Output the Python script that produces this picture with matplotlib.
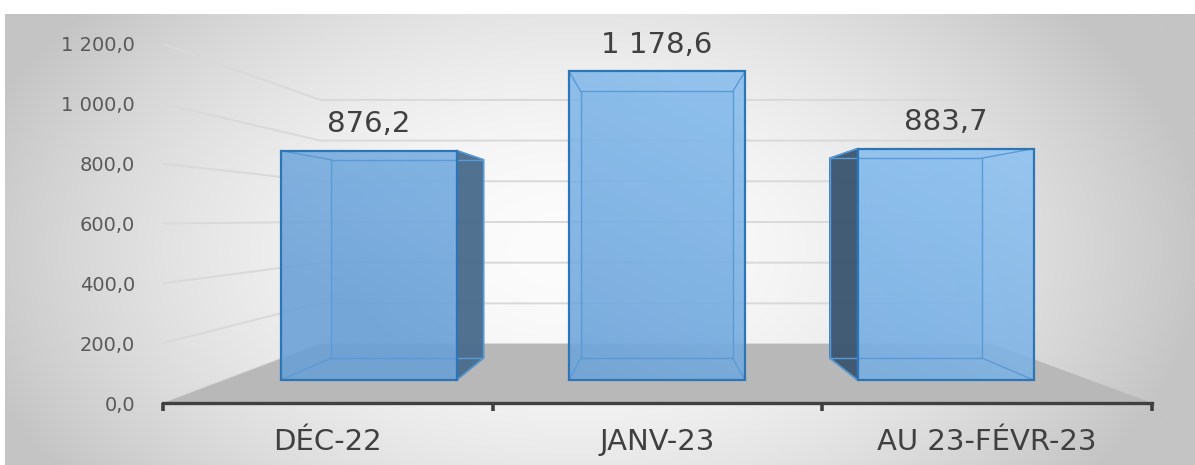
import numpy as np
import matplotlib.pyplot as plt
from matplotlib.patches import Polygon
from matplotlib.colors import LinearSegmentedColormap

plt.rcParams["font.family"] = ["DejaVu Sans"]

# Data
categories = ["DÉC-22", "JANV-23", "AU 23-FÉVR-23"]
values = [876.2, 1178.6, 883.7]
value_labels = ["876,2", "1 178,6", "883,7"]
y_ticks = [0, 200, 400, 600, 800, 1000, 1200]
y_tick_labels = ["0,0", "200,0", "400,0", "600,0", "800,0", "1 000,0", "1 200,0"]

# Perspective setup (data units: x = category slot, y = value)
VX, VY = 1.49, 616.0   # vanishing point
S_WALL = 0.68          # depth scale of the back wall
S_FRONT, S_BACK = 0.875, 0.756  # depth range of the bars
HALF_W = 0.305


def proj(x, v, s):
    return (VX + s * (x - VX), VY + s * (v - VY))


W, H = 1195, 465
fig = plt.figure(figsize=(W / 100, H / 100), dpi=100)
fig.patch.set_facecolor("white")

# Background gradient of the chart area
bg = fig.add_axes([5 / W, 0, (W - 5) / W, (H - 14) / H])
gx = np.linspace(-1, 1, 400)
gy = np.linspace(-1, 1, 200)
GX, GY = np.meshgrid(gx, gy)
r = np.sqrt(((GX + 0.04) / 1.0) ** 2 + ((GY + 0.05) / 1.6) ** 2)
shade = np.clip(252 - 50 * r ** 1.8, 196, 252) / 255
bg.imshow(np.dstack([shade] * 3), extent=(0, 1, 0, 1), aspect="auto", origin="lower")
bg.set_xlim(0, 1)
bg.set_ylim(0, 1)
bg.axis("off")

# Main axes: front plane
ax = fig.add_axes([163 / W, (H - 403) / H, 989 / W, 359 / H])
ax.set_facecolor("none")
ax.set_xlim(0, 3)
ax.set_ylim(0, 1200)

# Back wall gridlines
for v in y_ticks:
    p0 = proj(0, v, 1.0)
    p1 = proj(0, v, S_WALL)
    p2 = proj(3, v, S_WALL)
    ax.plot([p0[0], p1[0], p2[0]], [p0[1], p1[1], p2[1]],
            color="#d9d9d9", lw=1.4, zorder=1, clip_on=False, solid_capstyle="butt")

# Floor
floor = [proj(0, 0, 1.0), proj(3, 0, 1.0), proj(3, 0, S_WALL), proj(0, 0, S_WALL)]
ax.add_patch(Polygon(floor, closed=True, facecolor="#b8b8b8", edgecolor="none",
                     zorder=2, clip_on=False))

blue_cmap = LinearSegmentedColormap.from_list("bars", ["#69a0d6", "#98cdfb"])

for i, (val, lab) in enumerate(zip(values, value_labels)):
    cx = i + 0.5
    x0, x1 = cx - HALF_W, cx + HALF_W
    f = [proj(x0, 0, S_FRONT), proj(x1, 0, S_FRONT), proj(x1, val, S_FRONT), proj(x0, val, S_FRONT)]
    b = [proj(x0, 0, S_BACK), proj(x1, 0, S_BACK), proj(x1, val, S_BACK), proj(x0, val, S_BACK)]

    # back face and visible side face
    ax.add_patch(Polygon(b, closed=True, facecolor="#7fb3e6", edgecolor="none",
                         alpha=0.35, zorder=3, clip_on=False))
    if x1 < VX:
        side = [f[1], b[1], b[2], f[2]]
        ax.add_patch(Polygon(side, closed=True, facecolor="#4a6b8c", edgecolor="#2e75b6",
                             lw=1.2, alpha=0.95, zorder=4, clip_on=False))
    elif x0 > VX:
        side = [f[0], b[0], b[3], f[3]]
        ax.add_patch(Polygon(side, closed=True, facecolor="#3b556f", edgecolor="#2e75b6",
                             lw=1.2, alpha=0.95, zorder=4, clip_on=False))

    # inner edges
    for k in range(4):
        ax.plot([f[k][0], b[k][0]], [f[k][1], b[k][1]], color="#5b9bd5", lw=1.0,
                zorder=6, clip_on=False)
    bx = [p[0] for p in b] + [b[0][0]]
    by = [p[1] for p in b] + [b[0][1]]
    ax.plot(bx, by, color="#5b9bd5", lw=1.0, zorder=6, clip_on=False)

    # front face with gradient
    front = Polygon(f, closed=True, facecolor="none", edgecolor="none", transform=ax.transData)
    ax.add_patch(front)
    fx0, fy0 = f[0]
    fx1, fy1 = f[2]
    ux = np.linspace(fx0 / 3, fx1 / 3, 60)
    wy = np.linspace(fy0 / 1200, fy1 / 1200, 120)
    U, Wv = np.meshgrid(ux, wy)
    t = np.clip(0.75 * U + 0.55 * Wv - 0.28, 0, 1)
    im = ax.imshow(t, cmap=blue_cmap, vmin=0, vmax=1, extent=(fx0, fx1, fy0, fy1),
                   origin="lower", aspect="auto", alpha=0.88, zorder=5, interpolation="bilinear")
    im.set_clip_path(front)
    ax.add_patch(Polygon(f, closed=True, facecolor="none", edgecolor="#2e75b6",
                         lw=1.6, zorder=7, clip_on=False))

    # value label
    top = proj(cx, val, S_FRONT)
    ax.annotate(lab, xy=top, xytext=(0, 19), textcoords="offset points",
                ha="center", va="center", fontsize=21, color="#404040",
                zorder=8, annotation_clip=False)

ax.set_xlim(0, 3)
ax.set_ylim(0, 1200)

# Axes formatting
for sp in ["top", "right", "left"]:
    ax.spines[sp].set_visible(False)
ax.spines["bottom"].set_color("#404040")
ax.spines["bottom"].set_linewidth(2.4)
ax.spines["bottom"].set_zorder(9)

ax.set_yticks(y_ticks)
ax.set_yticklabels(y_tick_labels, fontsize=14, color="#595959")
ax.tick_params(axis="y", length=0, pad=20)

ax.set_xticks([0, 1, 2, 3])
ax.set_xticklabels([])
ax.tick_params(axis="x", which="major", length=5.5, width=2.6, color="#404040", direction="out")
ax.set_xticks([0.5, 1.5, 2.5], minor=True)
ax.set_xticklabels(categories, minor=True, fontsize=21, color="#404040")
ax.tick_params(axis="x", which="minor", length=0, pad=18)

fig.savefig("out.png", dpi=100)
